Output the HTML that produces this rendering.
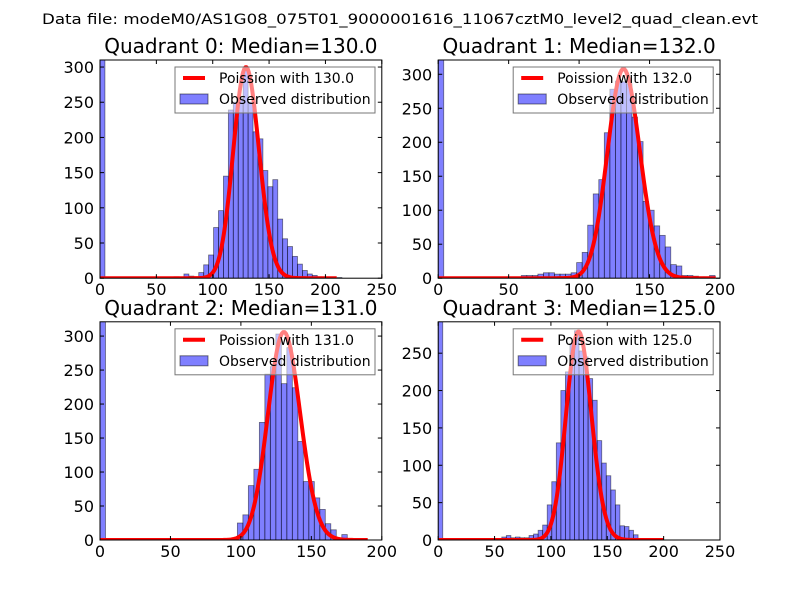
<!DOCTYPE html>
<html><head><meta charset="utf-8"><style>
body{margin:0;background:#fff}
svg{display:block;font-family:"DejaVu Sans","Liberation Sans",sans-serif}
</style></head><body>
<svg id="chart" width="800" height="600">
<rect width="800" height="600" fill="#fff"/>
<text x="400" y="24" text-anchor="middle" font-size="14.5" textLength="716" lengthAdjust="spacingAndGlyphs">Data file: modeM0/AS1G08_075T01_9000001616_11067cztM0_level2_quad_clean.evt</text>
</svg>
<script>
const medians = [130.0, 132.0, 131.0, 125.0];
const binWidths = [4.38, 3.93, 3.90, 4.03];
const countsQ0 = [400,0,0,0,0,0,0,0,0,0,0,0,0,0,0,2,1,6,3,2,8,19,33,72,96,145,239,250,255,295,250,208,198,153,130,140,84,56,45,31,20,11,6,4,2,1,1,0,1,0];
const countsQ1 = [400,0,0,0,0,0,0,1,1,1,1,0,0,0,0,4,4,4,6,8,8,6,6,6,8,23,38,78,124,145,214,278,290,289,286,237,201,113,100,77,63,46,20,18,4,4,3,2,2,4];
const countsQ2 = [400,0,0,0,0,0,0,0,0,0,0,0,0,0,0,0,0,0,2,0,0,0,2,1,3,25,37,80,104,173,244,255,303,230,283,224,145,86,86,62,45,24,15,3,8,2,0,0,0,0];
const countsQ3 = [400,0,0,0,0,0,0,1,0,0,0,0,0,0,4,6,3,4,3,3,6,8,13,20,47,78,130,200,225,263,280,253,245,216,187,133,103,86,67,47,19,18,13,7,2,1,0,0,0,0];
const poissonScales = [8570, 8870, 8780, 7820];
const curveEnds = [210, 197, 190, 200];
const xMaxes = [250, 200, 200, 250];
const yMaxes = [310, 321, 321, 292];
const xTickLabels = [[0,50,100,150,200,250],[0,50,100,150,200],[0,50,100,150,200],[0,50,100,150,200,250]];
const yTickLabels = [0,50,100,150,200,250,300];

const allCounts=[countsQ0,countsQ1,countsQ2,countsQ3];
const NS="http://www.w3.org/2000/svg";
const svg=document.getElementById('chart');
const boxes=[[100,60],[438.2,60],[100,321.8],[438.2,321.8]];
const W=281.8,H=218.2;
function mk(tag,attrs,parent){const e=document.createElementNS(NS,tag);for(const k in attrs)e.setAttribute(k,attrs[k]);(parent||svg).appendChild(e);return e;}
function lgamma(z){
  let s=0; while(z<7){s-=Math.log(z);z+=1;}
  return s+(z-0.5)*Math.log(z)-z+0.5*Math.log(2*Math.PI)+1/(12*z)-1/(360*z*z*z);
}
function pmf(k,l){return Math.exp(k*Math.log(l)-l-lgamma(k+1));}

for(let q=0;q<4;q++){
  const [x0,y0]=boxes[q];
  const sx=v=>x0+v/xMaxes[q]*W;
  const sy=v=>y0+H-v/yMaxes[q]*H;
  const g=mk('g',{});
  
  
  const cid='clip'+q;
  const cp=mk('clipPath',{id:cid},g);mk('rect',{x:x0,y:y0,width:W,height:H},cp);
  const t=mk('text',{x:x0+W/2,y:y0-7,'text-anchor':'middle','font-size':'20'},g);
  t.textContent='Quadrant '+q+': Median='+medians[q].toFixed(1);
  
  
  const bw=binWidths[q];
  allCounts[q].forEach((c,i)=>{
    if(c<=0)return;
    const r=mk('rect',{x:sx(i*bw),y:sy(c),width:sx((i+1)*bw)-sx(i*bw),height:sy(0)-sy(c),fill:'rgba(0,0,255,0.5)',stroke:'rgba(0,0,0,0.5)','stroke-width':0.8,'clip-path':'url(#'+cid+')'},g);
    
    
  });
  let d='';
  for(let k=0;k<=curveEnds[q];k++){d+=(k?'L':'M')+sx(k).toFixed(2)+','+sy(poissonScales[q]*pmf(k,medians[q])).toFixed(2);}
  const cl=mk('path',{d:d,fill:'none',stroke:'#ff0000','stroke-width':4,'stroke-linejoin':'round','clip-path':'url(#'+cid+')'},g);
  
  
  mk('rect',{x:x0,y:y0,width:W,height:H,fill:'none',stroke:'#000','stroke-width':1},g);
  xTickLabels[q].forEach(v=>{
    const X=sx(v);
    mk('line',{x1:X,x2:X,y1:y0+H,y2:y0+H-4,stroke:'#000'},g);
    mk('line',{x1:X,x2:X,y1:y0,y2:y0+4,stroke:'#000'},g);
    const tl=mk('text',{x:X,y:y0+H+17,'text-anchor':'middle','font-size':'16'},g);
    tl.textContent=v;
    
    
  });
  yTickLabels.forEach(v=>{
    if(v>yMaxes[q])return;
    const Y=sy(v);
    mk('line',{x1:x0,x2:x0+4,y1:Y,y2:Y,stroke:'#000'},g);
    mk('line',{x1:x0+W,x2:x0+W-4,y1:Y,y2:Y,stroke:'#000'},g);
    const tl=mk('text',{x:x0-6,y:Y+6,'text-anchor':'end','font-size':'16'},g);
    tl.textContent=v;
    
    
  });
  const lx=x0+75,ly=y0+7;
  const lg=mk('g',{},g);
  
  
  mk('rect',{x:lx,y:ly,width:200,height:46,fill:'rgba(255,255,255,0.5)',stroke:'#777','stroke-width':1},lg);
  mk('line',{x1:lx+8,x2:lx+30,y1:ly+11,y2:ly+11,stroke:'#ff0000','stroke-width':4},lg);
  const l1=mk('text',{x:lx+44,y:ly+16,'font-size':'14'},lg);
  l1.textContent='Poission with '+medians[q].toFixed(1);
  
  
  mk('rect',{x:lx+5,y:ly+27,width:28,height:10,fill:'rgba(0,0,255,0.5)',stroke:'rgba(0,0,0,0.5)'},lg);
  const l2=mk('text',{x:lx+44,y:ly+37,'font-size':'14'},lg);
  l2.textContent='Observed distribution';
  
  
}
</script>
</body></html>
